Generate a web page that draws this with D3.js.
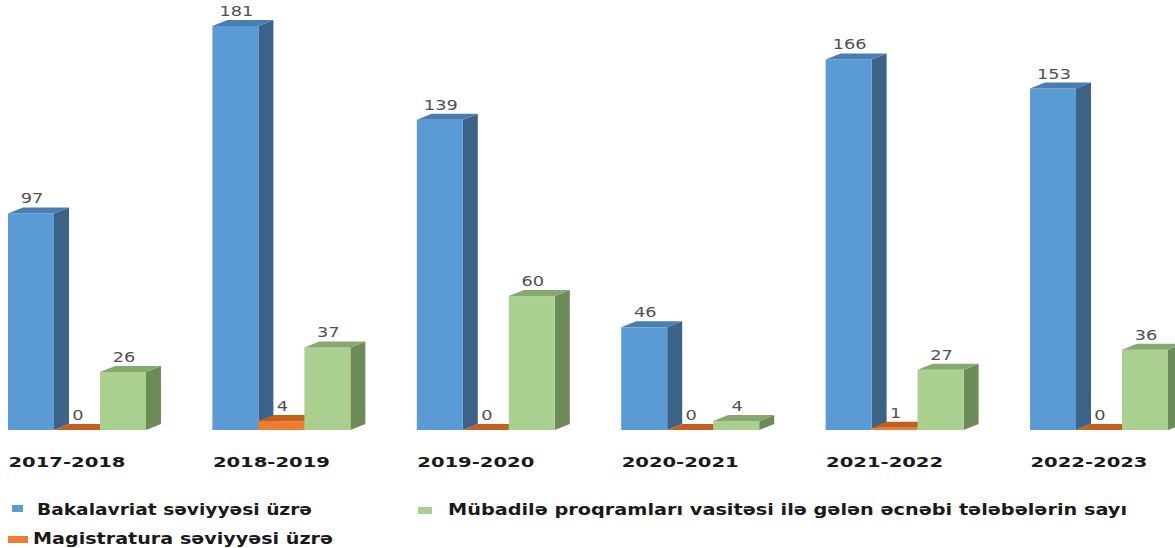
<!DOCTYPE html>
<html>
<head>
<meta charset="utf-8">
<script src="https://cdn.jsdelivr.net/npm/d3@7"></script>
<style>
  body { margin: 0; background: #fff; }
  svg { display: block; }
</style>
</head>
<body>
<svg id="chart" width="1175" height="548"></svg>
<script>
// Data
const years = ["2017-2018", "2018-2019", "2019-2020", "2020-2021", "2021-2022", "2022-2023"]
const seriesNames = ["Bakalavriat səviyyəsi üzrə", "Magistratura səviyyəsi üzrə", "Mübadilə proqramları vasitəsi ilə gələn əcnəbi tələbələrin sayı"]
const bakalavr = [97, 181, 139, 46, 166, 153]
const magistr = [0, 4, 0, 0, 1, 0]
const mubadile = [26, 37, 60, 4, 27, 36]

//Params
const params = {
    "baseY": 430,
    "depthX": 15,
    "depthY": 6,
    "font": "'DejaVu Sans', Verdana, sans-serif"
}
const colours = [
    {front: "#5b9bd5", top: "#4a7db0", side: "#3a6387"},
    {front: "#ed7d31", top: "#c2611f", side: "#a9561d"},
    {front: "#a9d08e", top: "#87a870", side: "#6d8a59"}
]

const svg = d3.select("#chart")

const x = d3.scaleBand()
    .domain(years)
    .range([8, 1168])
    .paddingInner(0.325)
    .paddingOuter(0)

const xInner = d3.scaleBand()
    .domain([0, 1, 2])
    .range([0, x.bandwidth()])

const y = d3.scaleLinear()
    .domain([0, 200])
    .range([params.baseY, params.baseY - 200*2.232])

const rows = years.map((yr, i) => ({year: yr, values: [bakalavr[i], magistr[i], mubadile[i]]}))

function drawBar(g, x0, w, v, c){
    const dx = params.depthX, dy = params.depthY
    const y0 = y(0), y1 = y(v)
    // side face
    g.append("path")
        .attr("d", `M${x0+w},${y1} L${x0+w+dx},${y1-dy} L${x0+w+dx},${y0-dy} L${x0+w},${y0} Z`)
        .attr("fill", c.side)
    // front
    if(v > 0){
        g.append("rect")
            .attr("x", x0).attr("y", y1)
            .attr("width", w).attr("height", y0 - y1)
            .attr("fill", c.front)
    }
    // top face
    g.append("path")
        .attr("d", `M${x0},${y1} L${x0+dx},${y1-dy} L${x0+w+dx},${y1-dy} L${x0+w},${y1} Z`)
        .attr("fill", c.top)
    // value label
    const s = String(v)
    g.append("text")
        .attr("x", x0 + w/2 + 1)
        .attr("y", y1 - dy - 4)
        .attr("text-anchor", "middle")
        .attr("font-family", params.font)
        .attr("font-size", 14)
        .attr("fill", "#505050")
        .attr("textLength", s.length*11.3)
        .attr("lengthAdjust", "spacingAndGlyphs")
        .text(s)
}

const groups = svg.selectAll("g.grp")
    .data(rows)
    .join("g")
    .attr("class", "grp")

groups.each(function(d){
    const g = d3.select(this)
    d.values.forEach((v, k) => {
        drawBar(g, x(d.year) + xInner(k), xInner.bandwidth(), v, colours[k])
    })
})

// category labels
svg.selectAll("text.cat")
    .data(years)
    .join("text")
    .attr("class", "cat")
    .attr("x", d => x(d) + x.bandwidth()/2 - 10)
    .attr("y", 467)
    .attr("text-anchor", "middle")
    .attr("font-family", params.font)
    .attr("font-weight", "bold")
    .attr("font-size", 14)
    .attr("fill", "#1a1a1a")
    .attr("textLength", 117)
    .attr("lengthAdjust", "spacingAndGlyphs")
    .text(d => d)

// legend
const legendItems = [
    {name: seriesNames[0], c: colours[0].front, sx: 12, sy: 505, sw: 11, tx: 37, ty: 515, tw: 275},
    {name: seriesNames[2], c: colours[2].front, sx: 418, sy: 507, sw: 14, tx: 448, ty: 515, tw: 679},
    {name: seriesNames[1], c: colours[1].front, sx: 8, sy: 536, sw: 20, tx: 33, ty: 544, tw: 300}
]
const legend = svg.selectAll("g.leg")
    .data(legendItems)
    .join("g")
    .attr("class", "leg")
legend.append("rect")
    .attr("x", d => d.sx)
    .attr("y", d => d.sy)
    .attr("width", d => d.sw)
    .attr("height", 7)
    .attr("fill", d => d.c)
legend.append("text")
    .attr("x", d => d.tx)
    .attr("y", d => d.ty)
    .attr("font-family", params.font)
    .attr("font-weight", "bold")
    .attr("font-size", 15)
    .attr("fill", "#1a1a1a")
    .attr("textLength", d => d.tw)
    .attr("lengthAdjust", "spacingAndGlyphs")
    .text(d => d.name)
</script>
</body>
</html>
